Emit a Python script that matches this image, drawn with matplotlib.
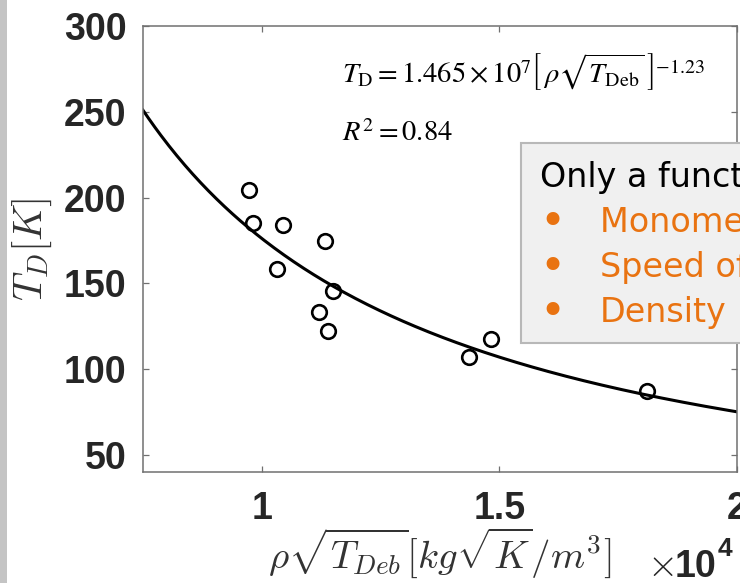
import matplotlib
matplotlib.use('Agg')
import matplotlib.pyplot as plt
import numpy as np
from matplotlib.patches import Rectangle

# measured Debye temperature vs. rho*sqrt(T_Deb) (x in units of 1e4)
x_data = [0.973, 0.982, 1.044, 1.134, 1.031, 1.150, 1.120, 1.140, 1.437, 1.483, 1.811]
td_data = [204.5, 185.1, 183.8, 174.6, 158.5, 145.4, 133.5, 122.0, 107.2, 117.5, 87.3]

# power-law fit T_D = A * (rho*sqrt(T_Deb))^b
fit_A = 1.465e7
fit_b = -1.23
r2 = 0.84

x_ticks = [1, 1.5, 2]
x_ticklabels = ['1', '1.5', '2']
y_ticks = [50, 100, 150, 200, 250, 300]

box_title = 'Only a function of'
box_items = ['Monomer mass', 'Speed of sound', 'Density']

W, H = 740, 583
fig = plt.figure(figsize=(W / 100, H / 100), dpi=100)
ax = fig.add_axes([143 / W, 1 - 472 / H, (737 - 143) / W, (472 - 26) / H])

xf = np.linspace(0.75, 2.0, 300)
ax.plot(xf, fit_A * (xf * 1e4) ** fit_b, color='black', lw=2.2, zorder=2)
ax.plot(x_data, td_data, 'o', mfc='none', mec='black', ms=10.5, mew=1.9, zorder=3)

ax.set_xlim(0.75, 2.0)
ax.set_ylim(40, 300)
ax.set_xticks(x_ticks)
ax.set_xticklabels(x_ticklabels)
ax.set_yticks(y_ticks)
for spine in ax.spines.values():
    spine.set_color('#707070')
    spine.set_linewidth(1.1)
ax.tick_params(direction='in', length=4, width=0.9, color='#707070',
               top=True, right=True, pad=12, labelcolor='#262626')
for lab in ax.get_xticklabels() + ax.get_yticklabels():
    lab.set_fontfamily('Liberation Sans')
    lab.set_fontweight('bold')
    lab.set_fontsize(27)
ax.tick_params(axis='x', pad=14)

# axis labels
fig.text(32 / W, 1 - 249 / H, r'$T_D[K]$', rotation=90, ha='center', va='center',
         fontsize=29, color='#333333', math_fontfamily='cm')
fig.text(440 / W, 1 - 553 / H, r'$\rho\sqrt{T_{Deb}}[kg\sqrt{K}/m^3]$', ha='center', va='center',
         fontsize=28, color='#333333', math_fontfamily='cm')

# x10^4 multiplier
fig.text(647 / W, 1 - 576 / H, r'$\times$', ha='left', va='baseline',
         fontsize=28, color='#262626', math_fontfamily='cm')
fig.text(675 / W, 1 - 577 / H, '10', ha='left', va='baseline', fontsize=27,
         fontweight='bold', family='Liberation Sans', color='#262626')
fig.text(718 / W, 1 - 556 / H, '4', ha='left', va='baseline', fontsize=19,
         fontweight='bold', family='Liberation Sans', color='#262626')

# fit equation
eq = (r'$T_{\mathrm{D}} = %.3f\times10^{7}\left[\,\rho\sqrt{T_{\mathrm{Deb}}}\,\right]^{%.2f}$'
      % (fit_A / 1e7, fit_b))
fig.text(342 / W, 1 - 72 / H, eq, ha='left', va='center', fontsize=20.5,
         color='black', math_fontfamily='stix')
fig.text(342 / W, 1 - 133 / H, r'$R^2 = %.2f$' % r2, ha='left', va='center',
         fontsize=20.5, color='black', math_fontfamily='stix')

# callout box on top of the axes
fig.patches.append(Rectangle((521 / W, 1 - 343 / H), 240 / W, 200 / H,
                             transform=fig.transFigure, facecolor='#f0f0f0',
                             edgecolor='#b8b8b8', lw=1.5, zorder=5))
fig.text(540 / W, 1 - 187 / H, box_title, ha='left', va='baseline', fontsize=24,
         family='DejaVu Sans', color='black', zorder=6)
orange = '#E97311'
for i, item in enumerate(box_items):
    yb = 1 - (232 + 45 * i) / H
    fig.text(539 / W, yb - 3 / H, '\u2022', ha='left', va='baseline', fontsize=32,
             family='DejaVu Sans', color=orange, zorder=6)
    fig.text(600 / W, yb, item, ha='left', va='baseline', fontsize=24,
             family='DejaVu Sans', color=orange, zorder=6)

# grey strip along the left edge
fig.patches.append(Rectangle((0, 0), 7 / W, 1, transform=fig.transFigure,
                             facecolor='#c4c4c4', edgecolor='none', zorder=5))

fig.savefig('out.png', dpi=100)
